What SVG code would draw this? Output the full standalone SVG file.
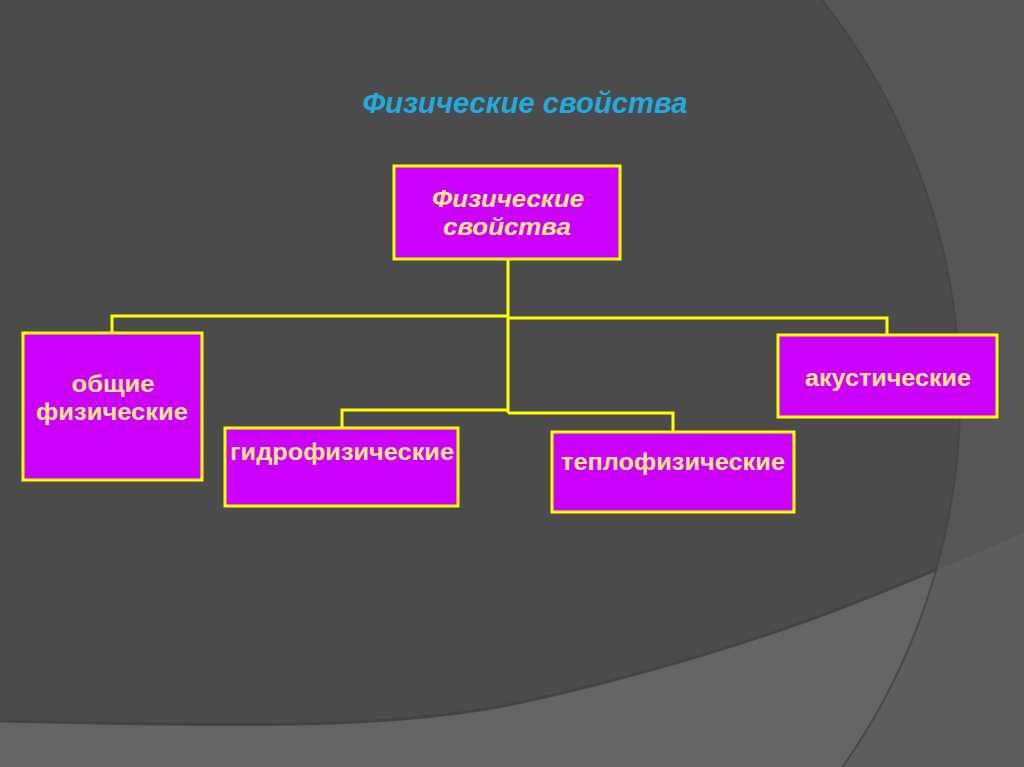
<svg xmlns="http://www.w3.org/2000/svg" width="1024" height="767" viewBox="0 0 1024 767">
<style>
.box{fill:#cc00ff;stroke:#ffff00;stroke-width:3}
.lbl{font-family:"Liberation Sans",Arial,sans-serif;font-weight:bold;font-size:23px;fill:#ffe880;text-anchor:middle}
.ital{font-style:italic}
.conn{fill:none;stroke:#ffff00;stroke-width:3}
</style>
<defs>
<clipPath id="circ"><circle cx="320" cy="397" r="640"/></clipPath>
</defs>
<g id="background">
<rect width="1024" height="767" fill="#565656"/>
<path d="M0,722 C250,728 400,730 523,703 C620,682 720,652 784,630 C870,600 950,565 1024,533 L1024,767 L0,767 Z" fill="#5d5d5d"/>
<g clip-path="url(#circ)">
<rect width="1024" height="767" fill="#4b4b4b"/>
<path d="M0,722 C250,728 400,730 523,703 C620,682 720,652 784,630 C870,600 950,565 1024,533 L1024,767 L0,767 Z" fill="#646464"/>
<path d="M0,721 C250,727 400,729 523,702 C620,681 720,651 784,629 C870,599 950,564 1024,532" fill="none" stroke="#3e3e3e" stroke-width="3" opacity="0.6"/>
</g>
<circle cx="320" cy="397" r="640" fill="none" stroke="#444" stroke-width="2" opacity="0.8"/>
</g>
<text x="525" y="113" font-family="'Liberation Sans',Arial,sans-serif" font-weight="bold" font-style="italic" font-size="29" fill="#22aadd" text-anchor="middle" textLength="325" lengthAdjust="spacingAndGlyphs">Физические свойства</text>
<g id="connectors">
<polyline class="conn" points="508,259 508,413"/>
<polyline class="conn" points="112,333 112,316 508,316"/>
<polyline class="conn" points="508,318 887,318 887,335"/>
<polyline class="conn" points="342,428 342,410 508,410"/>
<polyline class="conn" points="508,413 673,413 673,432"/>
</g>
<g id="root">
<rect class="box" x="394" y="166" width="226" height="93"/>
<text class="lbl ital" x="508" y="207" textLength="152" lengthAdjust="spacingAndGlyphs">Физические</text>
<text class="lbl ital" x="507" y="235" textLength="128" lengthAdjust="spacingAndGlyphs">свойства</text>
</g>
<g id="general">
<rect class="box" x="23" y="333" width="179" height="147"/>
<text class="lbl" x="113" y="392" textLength="83" lengthAdjust="spacingAndGlyphs">общие</text>
<text class="lbl" x="112" y="420" textLength="152" lengthAdjust="spacingAndGlyphs">физические</text>
</g>
<g id="hydro">
<rect class="box" x="225" y="428" width="233" height="78"/>
<text class="lbl" x="342" y="460" textLength="224" lengthAdjust="spacingAndGlyphs">гидрофизические</text>
</g>
<g id="thermo">
<rect class="box" x="552" y="432" width="242" height="80"/>
<text class="lbl" x="673" y="470" textLength="224" lengthAdjust="spacingAndGlyphs">теплофизические</text>
</g>
<g id="acoustic">
<rect class="box" x="778" y="335" width="219" height="82"/>
<text class="lbl" x="888" y="386" textLength="166" lengthAdjust="spacingAndGlyphs">акустические</text>
</g>
</svg>
